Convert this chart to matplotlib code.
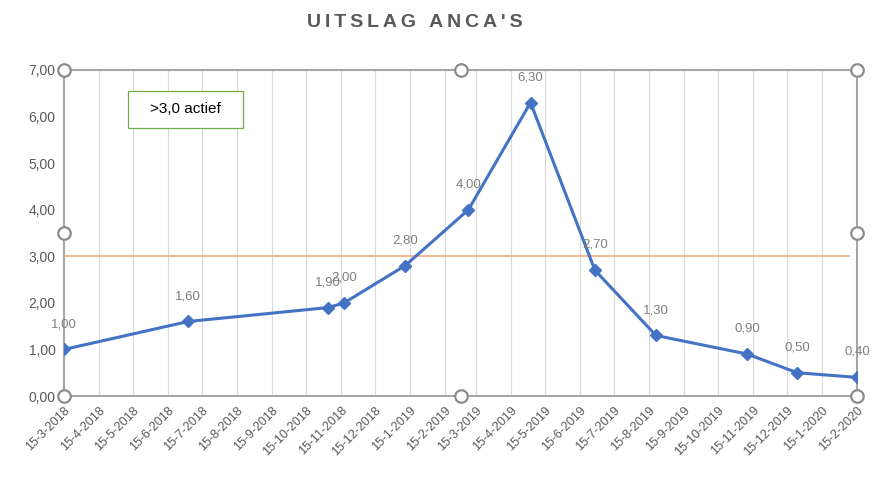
import pandas as pd
import matplotlib
matplotlib.use("Agg")
import matplotlib.pyplot as plt
from matplotlib.patches import Rectangle

plt.rcParams['font.family'] = ['Liberation Sans', 'DejaVu Sans']

dates = ['2018-03-15', '2018-07-03', '2018-11-04', '2018-11-18', '2019-01-11',
         '2019-03-08', '2019-05-02', '2019-06-28', '2019-08-21', '2019-11-10',
         '2019-12-24', '2020-02-15']
values = [1.00, 1.60, 1.90, 2.00, 2.80, 4.00, 6.30, 2.70, 1.30, 0.90, 0.50, 0.40]

threshold = 3.0
threshold_label = '>3,0 actief'
title = "UITSLAG ANCA'S"

tick_dates = pd.date_range('2018-03-01', '2020-02-01', freq='MS') + pd.Timedelta(days=14)
tick_labels = [f'{d.day}-{d.month}-{d.year}' for d in tick_dates]
y_ticks = [0, 1, 2, 3, 4, 5, 6, 7]

x = pd.to_datetime(dates)
grey = '#595959'

fig = plt.figure(figsize=(8.78, 4.78), dpi=100)
ax = fig.add_axes([0.0729, 0.1715, 0.9032, 0.6821])

ax.set_xlim(tick_dates[0], tick_dates[-1])
ax.set_ylim(0, 7)

# monthly vertical gridlines
for d in tick_dates:
    ax.axvline(d, color='#d9d9d9', lw=0.8, zorder=0)

ax.hlines(threshold, tick_dates[0], tick_dates[-1] - pd.Timedelta(days=6),
          color='#f4b183', lw=1.3, zorder=1)

ax.plot(x, values, color='#4472c4', lw=2.2, marker='D', markersize=6, zorder=3)

for xi, v in zip(x, values):
    ax.annotate(f'{v:.2f}'.replace('.', ','), xy=(xi, v), xytext=(0, 14),
                textcoords='offset points', ha='center', va='bottom',
                fontsize=9.5, color='#7f7f7f', zorder=4)

ax.set_xticks(tick_dates)
ax.set_xticklabels(tick_labels, rotation=45, ha='right', rotation_mode='anchor',
                   fontsize=9, color=grey)
ax.set_yticks(y_ticks)
ax.set_yticklabels([f'{v:.2f}'.replace('.', ',') for v in y_ticks], fontsize=10, color=grey)
ax.tick_params(length=0, pad=6)

for s in ax.spines.values():
    s.set_color('#a6a6a6')
    s.set_linewidth(1.5)

# selection handles of the plot area
hx = [0, 0.5, 1, 0, 1, 0, 0.5, 1]
hy = [1, 1, 1, 0.5, 0.5, 0, 0, 0]
ax.plot(hx, hy, 'o', transform=ax.transAxes, ms=9, mfc='white', mec='#8c8c8c',
        mew=1.6, clip_on=False, zorder=6)

# text box with threshold note
ax.add_patch(Rectangle((0.081, 0.822), 0.145, 0.114, transform=ax.transAxes,
                       fc='white', ec='#70ad47', lw=0.9, zorder=5))
ax.text(0.1535, 0.879, threshold_label, transform=ax.transAxes, fontsize=11,
        color='black', va='center', ha='center', zorder=6)

fig.text(0.473, 0.952, '\u2009'.join(title), ha='center', va='center', fontsize=14,
         fontweight='bold', color=grey)

fig.savefig('out.png', dpi=100, facecolor='white')
